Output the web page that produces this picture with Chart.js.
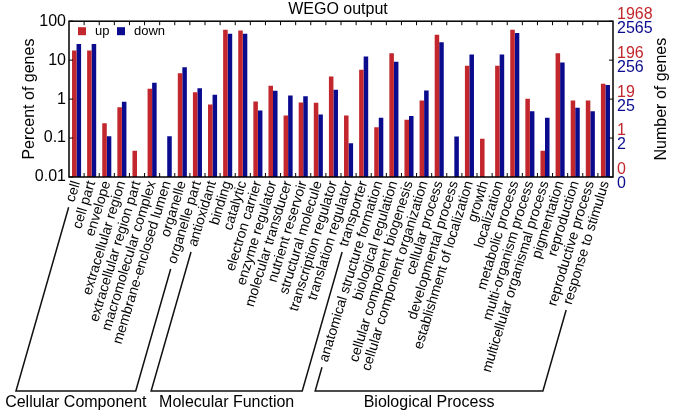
<!DOCTYPE html>
<html>
<head>
<meta charset="utf-8">
<script src="https://cdn.jsdelivr.net/npm/chart.js@4.4.1/dist/chart.umd.min.js"></script>
<style>
  html, body { margin: 0; padding: 0; background: #fff; }
  #wrap { width: 676px; height: 416px; }
</style>
</head>
<body>
<div id="wrap"><canvas id="wegoChart" width="676" height="416"></canvas></div>
<script>
// GO categories, left to right
const categories = [
    'cell', 'cell part', 'envelope', 'extracellular region', 'extracellular region part',
    'macromolecular complex', 'membrane-enclosed lumen', 'organelle', 'organelle part',
    'antioxidant', 'binding', 'catalytic', 'electron carrier', 'enzyme regulator',
    'molecular transducer', 'nutrient reservoir', 'structural molecule',
    'transcription regulator', 'translation regulator', 'transporter',
    'anatomical structure formation', 'biological regulation', 'cellular component biogenesis',
    'cellular component organization', 'cellular process', 'developmental process',
    'establishment of localization', 'growth', 'localization', 'metabolic process',
    'multi-organism process', 'multicellular organismal process', 'pigmentation',
    'reproduction', 'reproductive process', 'response to stimulus'
];

// percent of genes (null = no bar)
const upPercent = [
    17.7, 17.7, 0.24, 0.62, 0.047, 1.84, null, 4.64, 1.51,
    0.73, 60, 57.6, 0.87, 2.2, 0.38, 0.82, 0.80, 3.81, 0.38, 5.65,
    0.19, 15.1, 0.295, 0.92, 44.6, null, 7.16, 0.096, 7.16, 60, 1.02, 0.047, 15.1, 0.92, 0.92, 2.47
];
const downPercent = [
    26, 26, 0.112, 0.855, null, 2.62, 0.112, 6.6, 1.91,
    1.29, 47.3, 47.3, 0.51, 1.64, 1.24, 1.19, 0.40, 1.73, 0.074, 12.4,
    0.33, 9.06, 0.366, 1.67, 29, 0.11, 14, null, 14, 50, 0.49, 0.33, 8.7, 0.6, 0.49, 2.29
];

// axis ticks
const yTicks = [100, 10, 1, 0.1, 0.01];
const upCountLabels = ['1968', '196', '19', '1', '0'];
const downCountLabels = ['2565', '256', '25', '2', '0'];

// category groups (number of categories in each)
const groupNames = ['Cellular Component', 'Molecular Function', 'Biological Process'];
const groupSizes = [9, 11, 16];

const RED = '#C1272D';
const BLUE = '#0B0B8E';
const FONT = "'Liberation Sans', Arial, sans-serif";
Chart.defaults.font.family = FONT;
Chart.defaults.color = '#000';

const LABEL_ROT = 73;   // tick label rotation
const BRACKET_ROT = 74; // slant of the group brackets
const BRACKET_Y = 391;

// frame, inward ticks, right axis labels, legend and group brackets
const wegoDecor = {
    id: 'wegoDecor',
    afterDraw(chart) {
        const { ctx, chartArea: a, scales: { x, y } } = chart;
        ctx.save();

        // frame
        ctx.strokeStyle = '#000';
        ctx.lineWidth = 1.5;
        ctx.strokeRect(a.left, a.top, a.right - a.left, a.bottom - a.top);

        // inward ticks
        ctx.lineWidth = 1;
        ctx.beginPath();
        yTicks.forEach(v => {
            const py = y.getPixelForValue(v);
            ctx.moveTo(a.left, py); ctx.lineTo(a.left + 4, py);
            ctx.moveTo(a.right, py); ctx.lineTo(a.right - 4, py);
        });
        for (let i = 1; i < categories.length; i++) {
            const px = (x.getPixelForTick(i - 1) + x.getPixelForTick(i)) / 2;
            ctx.moveTo(px, a.top); ctx.lineTo(px, a.top + 4);
            ctx.moveTo(px, a.bottom); ctx.lineTo(px, a.bottom - 4);
        }
        ctx.stroke();

        // right axis: gene counts for up (red) and down (blue)
        ctx.font = '16px ' + FONT;
        ctx.textAlign = 'left';
        ctx.textBaseline = 'middle';
        yTicks.forEach((v, i) => {
            const py = y.getPixelForValue(v);
            ctx.fillStyle = RED;
            ctx.fillText(upCountLabels[i], a.right + 4, py - 7);
            ctx.fillStyle = BLUE;
            ctx.fillText(downCountLabels[i], a.right + 4, py + 7);
        });

        // right axis title
        ctx.save();
        ctx.translate(662, (a.top + a.bottom) / 2);
        ctx.rotate(-Math.PI / 2);
        ctx.textAlign = 'center';
        ctx.fillStyle = '#000';
        ctx.fillText('Number of genes', 0, 0);
        ctx.restore();

        // legend inside the plot
        ctx.font = '13px ' + FONT;
        chart.data.datasets.forEach((ds, i) => {
            const bx = a.left + 9 + i * 39;
            ctx.fillStyle = ds.backgroundColor;
            ctx.fillRect(bx, a.top + 6, 8, 8);
            ctx.fillStyle = '#000';
            ctx.fillText(ds.label, bx + 17, a.top + 10);
        });

        // group brackets
        ctx.font = '14px ' + FONT;
        const lr = LABEL_ROT * Math.PI / 180;
        const br = BRACKET_ROT * Math.PI / 180;
        const lh = 14 * 1.2;
        const labelEnd = (i) => {
            const w = ctx.measureText(categories[i]).width + 6;
            return {
                x: x.getPixelForTick(i) - w * Math.cos(lr),
                y: a.bottom + 2 + w * Math.sin(lr) + lh / 2 * Math.cos(lr)
            };
        };
        const toBase = p => ({ x: p.x - (BRACKET_Y - p.y) / Math.tan(br), y: BRACKET_Y });

        ctx.strokeStyle = '#111';
        ctx.lineWidth = 1.5;
        let start = 0;
        groupSizes.forEach((n, g) => {
            const L = labelEnd(start);
            const R = labelEnd(start + n - 1);
            const Lb = toBase(L), Rb = toBase(R);
            ctx.beginPath();
            ctx.moveTo(L.x, L.y);
            ctx.lineTo(Lb.x, Lb.y);
            ctx.lineTo(Rb.x, Rb.y);
            ctx.lineTo(R.x, R.y);
            ctx.stroke();

            ctx.save();
            ctx.font = '16px ' + FONT;
            ctx.fillStyle = '#000';
            ctx.textAlign = 'center';
            ctx.textBaseline = 'middle';
            ctx.fillText(groupNames[g], (Lb.x + Rb.x) / 2, 403);
            ctx.restore();
            start += n;
        });

        ctx.restore();
    }
};

const wegoChart = new Chart(
    document.getElementById('wegoChart').getContext('2d'),
    {
        type: 'bar',
        data: {
            labels: categories,
            datasets: [{
                label: 'up',
                data: upPercent,
                backgroundColor: RED,
                categoryPercentage: 0.6,
                barPercentage: 1
            }, {
                label: 'down',
                data: downPercent,
                backgroundColor: BLUE,
                categoryPercentage: 0.6,
                barPercentage: 1
            }]
        },
        options: {
            responsive: false,
            devicePixelRatio: 1,
            animation: false,
            layout: { padding: 0 },
            plugins: {
                legend: { display: false },
                tooltip: { enabled: false },
                title: {
                    display: true,
                    text: 'WEGO output',
                    color: '#000',
                    font: { size: 16, weight: 'normal' },
                    padding: { top: 0, bottom: 2 }
                }
            },
            scales: {
                x: {
                    grid: { display: false, drawTicks: false },
                    border: { display: false },
                    ticks: {
                        autoSkip: false,
                        minRotation: LABEL_ROT,
                        maxRotation: LABEL_ROT,
                        padding: 2,
                        color: '#000',
                        font: { size: 14 }
                    },
                    afterFit: s => { s.height = 239; }
                },
                y: {
                    type: 'logarithmic',
                    position: 'left',
                    min: 0.01,
                    max: 100,
                    grid: { display: false, drawTicks: false },
                    border: { display: false },
                    afterBuildTicks: s => { s.ticks = yTicks.map(v => ({ value: v })); },
                    ticks: {
                        padding: 3,
                        color: '#000',
                        font: { size: 16 },
                        callback: v => String(v)
                    },
                    title: {
                        display: true,
                        text: 'Percent of genes',
                        color: '#000',
                        font: { size: 16 },
                        padding: { top: 20, bottom: 0 }
                    },
                    afterFit: s => { s.width = 69; }
                },
                y2: {
                    type: 'logarithmic',
                    position: 'right',
                    min: 0.01,
                    max: 100,
                    grid: { display: false, drawTicks: false },
                    border: { display: false },
                    ticks: { display: false },
                    afterFit: s => { s.width = 63; }
                }
            }
        },
        plugins: [wegoDecor]
    }
);
</script>
</body>
</html>
